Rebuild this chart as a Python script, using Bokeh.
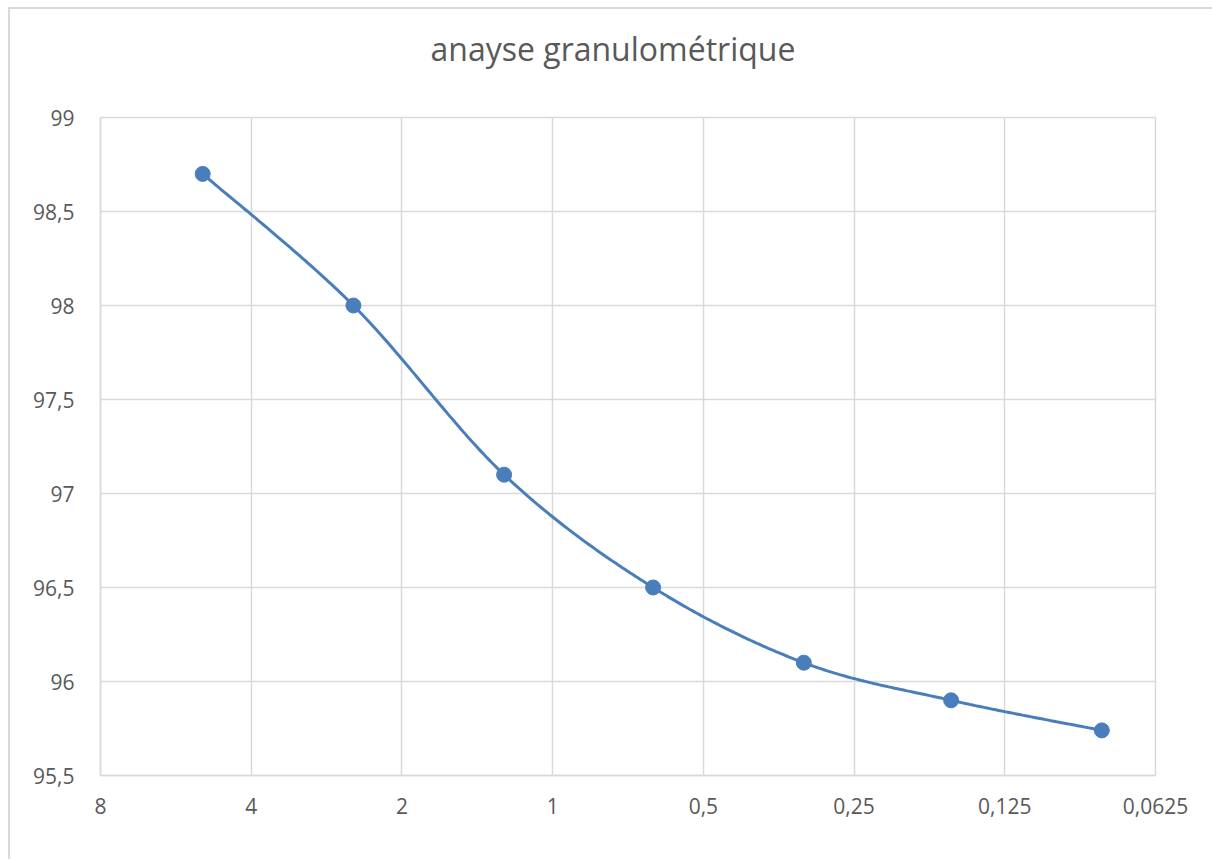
import numpy as np
from bokeh.plotting import figure
from bokeh.models import Range1d, FixedTicker, CustomJSTickFormatter, Title
from bokeh.embed import file_html
from bokeh.resources import INLINE

title_text = "anayse granulométrique"
sieve_mm = [5, 2.5, 1.25, 0.63, 0.315, 0.16, 0.08]
passing = [98.7, 98.0, 97.1, 96.5, 96.1, 95.9, 95.74]
x_ticks = [8, 4, 2, 1, 0.5, 0.25, 0.125, 0.0625]
y_ticks = [95.5, 96, 96.5, 97, 97.5, 98, 98.5, 99]

TEXT = "#595959"
GRID = "#d9d9d9"
BLUE = "#4a7ebb"

# Excel-like smoothed line: cubic Bezier (Catmull-Rom) in log2(x) / y space
P = np.column_stack([np.log2(sieve_mm), np.array(passing, dtype=float)])
n = len(P)
segs = []
t = np.linspace(0, 1, 60)[:, None]
for i in range(n - 1):
    p0 = P[max(i - 1, 0)]
    p1 = P[i]
    p2 = P[i + 1]
    p3 = P[min(i + 2, n - 1)]
    c1 = p1 + (p2 - p0) / 6.0
    c2 = p2 - (p3 - p1) / 6.0
    seg = (1 - t) ** 3 * p1 + 3 * (1 - t) ** 2 * t * c1 + 3 * (1 - t) * t ** 2 * c2 + t ** 3 * p2
    segs.append(seg if i == 0 else seg[1:])
curve = np.vstack(segs)
curve_x = 2 ** curve[:, 0]
curve_y = curve[:, 1]

p = figure(
    width=1204, height=852,
    x_axis_type="log",
    x_range=Range1d(x_ticks[0], x_ticks[-1]),
    y_range=Range1d(y_ticks[0], y_ticks[-1]),
    output_backend="svg", toolbar_location=None,
    min_border_left=90, min_border_right=59, min_border_top=108, min_border_bottom=86,
)
p.styles = {"border-left": "2px solid #d9d9d9", "border-top": "2px solid #d9d9d9",
            "margin": "7px 0 0 8px"}
p.background_fill_color = "white"
p.border_fill_color = "white"
p.outline_line_color = GRID
p.outline_line_width = 1.5

# spacer between the title and the plot frame
p.add_layout(Title(text=" ", text_font_size="1px", standoff=30), "above")

p.title.text = title_text
p.title.align = "left"
p.title.offset = 330
p.title.standoff = 30
p.title.text_font = "Open Sans"
p.title.text_font_size = "32px"
p.title.text_font_style = "normal"
p.title.text_color = TEXT

fmt = CustomJSTickFormatter(code="return tick.toString().replace('.', ',');")

p.xaxis.ticker = FixedTicker(ticks=x_ticks)
p.xgrid.ticker = FixedTicker(ticks=x_ticks)
p.yaxis.ticker = FixedTicker(ticks=y_ticks)
p.ygrid.ticker = FixedTicker(ticks=y_ticks)
p.xaxis.formatter = fmt
p.yaxis.formatter = fmt

for ax in (p.xaxis, p.yaxis):
    ax.axis_line_color = GRID
    ax.axis_line_width = 1.5
    ax.major_tick_line_color = None
    ax.minor_tick_line_color = None
    ax.major_label_text_color = TEXT
    ax.major_label_text_font = "Open Sans"
    ax.major_label_text_font_size = "21px"
p.xaxis.major_label_standoff = 16
p.yaxis.major_label_standoff = 20

for g in (p.xgrid, p.ygrid):
    g.grid_line_color = GRID
    g.grid_line_width = 1.5

p.line(curve_x, curve_y, line_color=BLUE, line_width=3)
p.scatter(sieve_mm, passing, size=15, fill_color=BLUE, line_color=BLUE)

open("out.html", "w").write(file_html(p, INLINE))
